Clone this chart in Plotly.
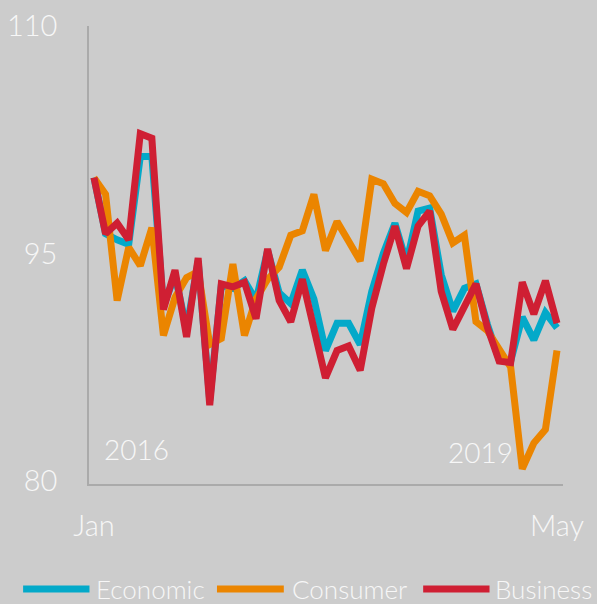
import plotly.graph_objects as go

months = list(range(41))  # Jan 2016 .. May 2019
tick_labels = ["Jan", "May"]
tick_positions = [0, 40]

economic = [100.0, 96.3, 95.9, 95.6, 101.4, 101.4, 91.5, 93.6, 90.0, 94.5,
            85.3, 92.9, 92.7, 93.2, 91.9, 95.2, 92.4, 91.7, 93.9, 92.0,
            88.6, 90.4, 90.4, 89.0, 92.5, 95.0, 97.0, 94.4, 97.8, 98.0,
            93.6, 91.2, 92.7, 93.0, 90.3, 88.0, 87.9, 90.8, 89.3, 91.1, 90.1]
consumer = [100.0, 98.9, 91.9, 95.4, 94.2, 96.7, 89.6, 92.1, 93.4, 93.8,
            89.0, 89.4, 94.3, 89.6, 92.0, 93.3, 94.1, 96.2, 96.5, 98.9,
            95.2, 97.1, 95.8, 94.5, 99.9, 99.6, 98.3, 97.7, 99.1, 98.8,
            97.6, 95.7, 96.2, 90.5, 89.9, 88.8, 87.5, 80.8, 82.5, 83.4, 88.6]
business = [100.0, 96.3, 97.0, 95.9, 102.9, 102.6, 91.3, 93.9, 89.5, 94.7,
            85.0, 93.0, 92.8, 93.1, 90.7, 95.3, 91.9, 90.5, 93.3, 90.1,
            86.8, 88.6, 88.9, 87.3, 91.4, 94.3, 96.8, 94.0, 96.8, 97.8,
            92.5, 90.0, 91.4, 93.0, 90.1, 87.9, 87.8, 93.1, 91.0, 93.2, 90.4]

series_names = ["Economic", "Consumer", "Business"]
series_colors = ["#03a9c9", "#eb8500", "#cf1f33"]
series_values = [economic, consumer, business]

BG = "#cccccc"
TXT = "#f7f7f7"
FONT = "Lato"

fig = go.Figure()
for name, col, vals in zip(series_names, series_colors, series_values):
    fig.add_trace(go.Scatter(x=months, y=vals, mode="lines", name=name,
                             line=dict(color=col, width=7), showlegend=False))

# manual legend
leg_items = [(-0.139, 0.001, 0.0116), (0.270, 0.411, 0.423), (0.705, 0.845, 0.852)]
shapes = []
annotations = []
for (x0, x1, xt), name, col in zip(leg_items, series_names, series_colors):
    shapes.append(dict(type="line", xref="paper", yref="paper", x0=x0, x1=x1,
                       y0=-0.229, y1=-0.229, line=dict(color=col, width=7)))
    annotations.append(dict(text=name, xref="paper", yref="paper", x=xt, y=-0.229,
                            xanchor="left", yanchor="middle", showarrow=False,
                            font=dict(size=26, color=TXT, family=FONT, weight=300)))

annotations.append(dict(text="2016", xref="paper", yref="paper", x=0.101, y=0.076,
                        xanchor="center", yanchor="middle", showarrow=False,
                        font=dict(size=28, color=TXT, family=FONT, weight=300)))
annotations.append(dict(text="2019", xref="paper", yref="paper", x=0.825, y=0.07,
                        xanchor="center", yanchor="middle", showarrow=False,
                        font=dict(size=28, color=TXT, family=FONT, weight=300)))

fig.update_layout(
    width=597, height=604,
    paper_bgcolor=BG, plot_bgcolor=BG,
    margin=dict(l=89, r=34, t=26, b=120, autoexpand=False),
    font=dict(family=FONT, color=TXT, size=27),
    shapes=shapes, annotations=annotations,
    showlegend=False,
)
fig.update_xaxes(range=[-0.43, 40.52], tickvals=tick_positions, ticktext=tick_labels,
                 automargin=False,
                 showgrid=False, zeroline=False, showline=True, linecolor="#aaaaaa",
                 linewidth=1.5, ticks="", ticklabelstandoff=15,
                 tickfont=dict(size=29, color=TXT, family=FONT, weight=300))
fig.update_yaxes(range=[79.8, 110], tickvals=[80, 95, 110],
                 automargin=False,
                 showgrid=False, zeroline=False, showline=True, linecolor="#aaaaaa",
                 linewidth=1.5, ticks="", ticklabelstandoff=24,
                 tickfont=dict(size=29, color=TXT, family=FONT, weight=300))

fig.write_html("out.html", config={"displayModeBar": False},
               post_script="document.body.style.margin='0';document.body.style.background='#cccccc';")
